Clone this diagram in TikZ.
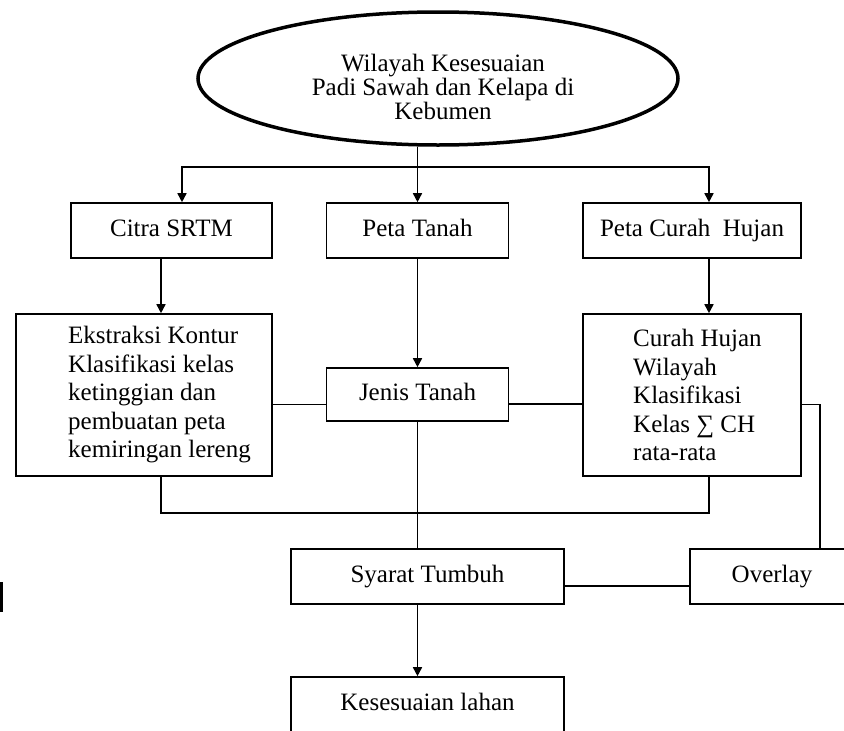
\documentclass[tikz,border=0pt]{standalone}
\usepackage{fontspec}
\setmainfont{Liberation Serif}
\usetikzlibrary{shapes.geometric,arrows.meta}
\begin{document}
\begin{tikzpicture}[x=1pt,y=-1pt,
		kotak/.style={draw,line width=1.6pt,inner sep=0pt,text height=17pt,text depth=5pt,font=\fontsize{25}{28}\selectfont},
		teks/.style={inner sep=0pt,align=left,font=\fontsize{25}{28.5}\selectfont},
		garis/.style={line width=1.6pt},
		panah/.style={garis,-{Triangle[width=9pt,length=9pt]}}]
	\useasboundingbox (0,0) rectangle (844,731);
	\clip (0,0) rectangle (844,731);
	% judul
	\node[ellipse,draw,line width=3.5pt,minimum width=480,minimum height=133] (wilayah) at (438,78.5) {};
	\node[teks,align=center,font=\fontsize{25}{24}\selectfont] (wilayahtxt) at (443,87) {Wilayah Kesesuaian\\Padi Sawah dan Kelapa di\\Kebumen};
	% data
	\node[kotak,minimum width=201,minimum height=55] (citra) at (171.5,230.5) {Citra SRTM};
	\node[kotak,minimum width=182,minimum height=55] (petatanah) at (417.5,230.5) {Peta Tanah};
	\node[kotak,minimum width=218,minimum height=55] (petach) at (692,230.5) {Peta Curah\ \ Hujan};
	% proses
	\node[kotak,minimum width=256,minimum height=162] (ekstraksi) at (144,395) {};
	\node[teks,anchor=west] (ekstraksitxt) at (68,395) {Ekstraksi Kontur\\Klasifikasi kelas\\ketinggian dan\\pembuatan peta\\kemiringan lereng};
	\node[kotak,minimum width=182,minimum height=53] (jenis) at (417.5,394.5) {Jenis Tanah};
	\node[kotak,minimum width=218,minimum height=162] (curah) at (692,395) {};
	\node[teks,anchor=west] (curahtxt) at (633,395) {Curah Hujan\\Wilayah\\Klasifikasi\\Kelas ∑ CH\\rata-rata};
	% hasil
	\node[kotak,minimum width=273,minimum height=55] (syarat) at (427.5,576.5) {Syarat Tumbuh};
	\node[kotak,minimum width=164,minimum height=55] (overlay) at (772,576.5) {Overlay};
	\node[kotak,minimum width=273,minimum height=55] (kesesuaian) at (427.5,704.5) {Kesesuaian lahan};
	\coordinate (cabang) at (417.5,167);
	\coordinate (gabung) at (417.5,513);
	% garis
	\draw[garis] (wilayah.south -| cabang) -- (cabang);
	\draw[panah] (cabang) -| ([xshift=10.5]citra.north);
	\draw[panah] (cabang) -- (petatanah.north);
	\draw[panah] (cabang) -| ([xshift=17]petach.north);
	\draw[panah] ([xshift=-10.5]citra.south) -- ([xshift=-10.5]citra.south |- ekstraksi.north);
	\draw[panah] ([xshift=17]petach.south) -- ([xshift=17]petach.south |- curah.north);
	\draw[panah] (petatanah.south) -- (jenis.north);
	\draw[garis] ([yshift=-9.5]ekstraksi.east) -- ([yshift=-9.5]ekstraksi.east -| jenis.west);
	\draw[garis] ([yshift=-9.5]jenis.east) -- ([yshift=-9.5]jenis.east -| curah.west);
	\draw[garis] ([yshift=-9.5]curah.east) -| ([xshift=48]overlay.north);
	\draw[garis] ([xshift=17]ekstraksi.south) |- (gabung) -| ([xshift=17]curah.south);
	\draw[garis] (jenis.south) -- (jenis.south |- syarat.north);
	\draw[garis] ([yshift=-9.5]syarat.east) -- ([yshift=-9.5]syarat.east -| overlay.west);
	\draw[panah] (jenis.south |- syarat.south) -- (jenis.south |- kesesuaian.north);
	\fill (0,582) rectangle (3,612);
\end{tikzpicture}
\end{document}
